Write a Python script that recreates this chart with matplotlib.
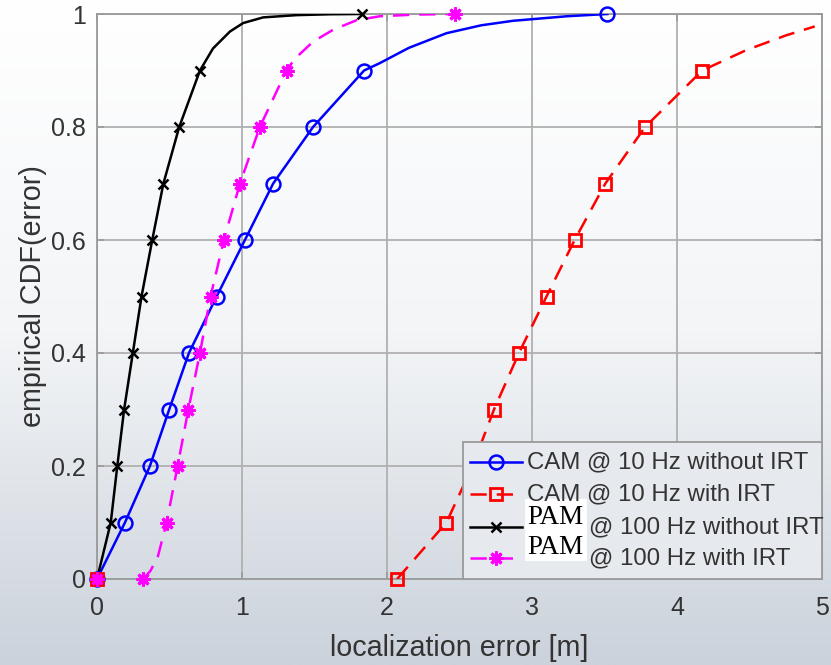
import numpy as np
import matplotlib
matplotlib.use("Agg")
import matplotlib.pyplot as plt
from matplotlib.lines import Line2D
from matplotlib.patches import Rectangle
from matplotlib.colors import LinearSegmentedColormap

plt.rcParams['font.family'] = ['Liberation Sans', 'DejaVu Sans']

# decile levels of the empirical CDF (marker positions)
levels = [0.0, 0.1, 0.2, 0.3, 0.4, 0.5, 0.6, 0.7, 0.8, 0.9, 1.0]

# CAM @ 10 Hz without IRT
cam10_mark_x = [0.0, 0.193, 0.365, 0.498, 0.634, 0.825, 1.02, 1.215, 1.49, 1.842, 3.52]
cam10_mark_y = levels
cam10_line_x = cam10_mark_x[:10] + [1.95, 2.15, 2.41, 2.65, 2.87, 3.24, 3.52]
cam10_line_y = levels[:10] + [0.913, 0.94, 0.966, 0.98, 0.988, 0.996, 1.0]

# CAM @ 10 Hz with IRT
cam10i_mark_x = [0.0, 2.07, 2.41, 2.59, 2.738, 2.91, 3.10, 3.294, 3.506, 3.78, 4.174]
cam10i_mark_y = [0.0] + levels[:10]
cam10i_line_x = cam10i_mark_x[1:] + [4.477, 4.75, 4.95]
cam10i_line_y = levels[:10] + [0.936, 0.962, 0.978]

# PAM @ 100 Hz without IRT
pam100_mark_x = [0.0, 0.095, 0.14, 0.187, 0.247, 0.307, 0.381, 0.458, 0.567, 0.71, 1.83]
pam100_mark_y = levels
pam100_line_x = pam100_mark_x[:10] + [0.80, 0.917, 1.008, 1.146, 1.376, 1.606, 1.83]
pam100_line_y = levels[:10] + [0.939, 0.969, 0.984, 0.994, 0.998, 0.9995, 1.0]

# PAM @ 100 Hz with IRT
pam100i_mark_x = [0.0, 0.32, 0.48, 0.556, 0.63, 0.71, 0.783, 0.875, 0.986, 1.123, 1.307, 2.467]
pam100i_mark_y = [0.0] + levels
pam100i_line_x = [0.32, 0.37, 0.42] + pam100i_mark_x[2:11] + [1.365, 1.49, 1.628, 1.79, 1.95, 2.2, 2.467]
pam100i_line_y = [0.0, 0.015, 0.04] + levels[1:10] + [0.921, 0.951, 0.972, 0.989, 0.996, 0.999, 1.0]

# legend texts; the PAM entries were patched over in the source picture
legend_labels = ["CAM @ 10 Hz without IRT", "CAM @ 10 Hz with IRT",
                 "@ 100 Hz without IRT", "@ 100 Hz with IRT"]
patch_label = "PAM"

xticks = [0, 1, 2, 3, 4, 5]
yticks = [0, 0.2, 0.4, 0.6, 0.8, 1]
yticklabels = ["0", "0.2", "0.4", "0.6", "0.8", "1"]

W, H = 831, 665


def fx(px):
    return px / W


def fy(py):
    return 1 - py / H


fig = plt.figure(figsize=(W / 100, H / 100), dpi=100)

# background gradient (white at top, grey-blue at bottom)
bg = fig.add_axes([0, 0, 1, 1], zorder=-10)
cmap = LinearSegmentedColormap.from_list("bg", ["#cbd2db", "#f3f5f7", "#ffffff"])
bg.imshow(np.linspace(1, 0, 256).reshape(-1, 1), aspect="auto", cmap=cmap,
          extent=[0, 1, 0, 1])
bg.axis("off")

ax = fig.add_axes([fx(97), fy(579), 725 / W, 565 / H])
ax.set_facecolor("none")

dash = (0, (6.5, 4))
styles = [
    dict(color="#0000ff", ls="-", marker="o", ms=10, mfc="none", mew=1.8),
    dict(color="#ff0000", ls=dash, marker="s", ms=8, mfc="none", mew=2.0),
    dict(color="#000000", ls="-", marker="x", ms=7, mfc="none", mew=1.8),
    dict(color="#ff00ff", ls=dash, marker=(8, 2, 0), ms=10, mfc="none", mew=2.2),
]
series = [
    (cam10_line_x, cam10_line_y, cam10_mark_x, cam10_mark_y),
    (cam10i_line_x, cam10i_line_y, cam10i_mark_x, cam10i_mark_y),
    (pam100_line_x, pam100_line_y, pam100_mark_x, pam100_mark_y),
    (pam100i_line_x, pam100i_line_y, pam100i_mark_x, pam100i_mark_y),
]

for (lx, ly, mx, my), st in zip(series, styles):
    ax.plot(lx, ly, color=st["color"], ls=st["ls"], lw=1.8, zorder=3)
    ax.plot(mx, my, ls="none", color=st["color"], marker=st["marker"], ms=st["ms"],
            mfc=st["mfc"], mew=st["mew"], zorder=4, clip_on=False)

ax.set_xlim(0, 5)
ax.set_ylim(0, 1)
ax.set_xticks(xticks)
ax.set_yticks(yticks)
ax.set_yticklabels(yticklabels)
ax.grid(True, color="#b0b0b0", lw=1.3)
ax.set_axisbelow(True)
for s in ax.spines.values():
    s.set_color("#9a9a9a")
    s.set_linewidth(1.3)
ax.tick_params(direction="in", length=5, width=1.2, color="#9a9a9a",
               labelsize=18, labelcolor="#333333", top=True, right=True)
ax.tick_params(axis="x", pad=12)
ax.tick_params(axis="y", pad=8)

ax.set_xlabel("localization error [m]", fontsize=20.7, color="#333333", labelpad=10)
ax.set_ylabel("empirical CDF(error)", fontsize=20.7, color="#333333", labelpad=3)

# legend box, drawn by hand so the pasted PAM patches do not cover text
fig.add_artist(Rectangle((fx(463), fy(579)), fx(822) - fx(463), fy(442) - fy(579),
                         transform=fig.transFigure, facecolor="#e6e9ed",
                         edgecolor="#9a9a9a", lw=1.3, zorder=5))
row_y = [462, 494, 527, 558]
text_x = [527, 527, 589, 589]
for st, lab, ry, tx in zip(styles, legend_labels, row_y, text_x):
    fig.add_artist(Line2D([fx(470), fx(522)], [fy(ry), fy(ry)], transform=fig.transFigure,
                          color=st["color"], ls=st["ls"], lw=1.8, zorder=6))
    fig.add_artist(Line2D([fx(496)], [fy(ry)], transform=fig.transFigure, ls="none",
                          color=st["color"], marker=st["marker"], ms=st["ms"],
                          mfc=st["mfc"], mew=st["mew"], zorder=6))
    fig.text(fx(tx), fy(ry), lab, fontsize=17.3, color="#333333",
             va="center", ha="left", zorder=7)

# white "PAM" patches pasted over the PAM entries
fig.add_artist(Rectangle((fx(525), fy(561)), fx(587) - fx(525), fy(499) - fy(561),
                         transform=fig.transFigure, facecolor="white",
                         edgecolor="none", zorder=7))
for ty in [518, 547]:
    fig.text(fx(527), fy(ty), patch_label, fontsize=19.5, family="Liberation Serif",
             color="black", va="center", ha="left", zorder=8)

fig.savefig("out.png", dpi=100)
